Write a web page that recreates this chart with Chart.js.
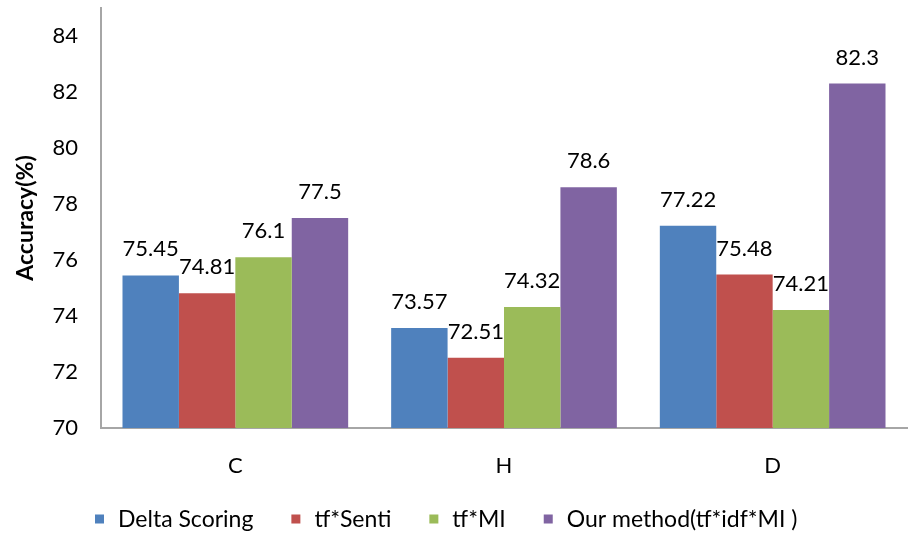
<!DOCTYPE html>
<html>
<head>
<meta charset="utf-8">
<script src="https://cdn.jsdelivr.net/npm/chart.js@4.4.1/dist/chart.umd.min.js"></script>
<style>
  html, body { margin: 0; padding: 0; background: #ffffff; }
  #wrap { width: 909px; height: 533px; position: relative; }
</style>
</head>
<body>
<div id="wrap"><canvas id="chart" width="909" height="533"></canvas></div>
<script>
// Categories and accuracy values (%) for each weighting scheme
const categories = ['C', 'H', 'D'];
const seriesNames = ['Delta Scoring', 'tf*Senti', 'tf*MI', 'Our method(tf*idf*MI )'];
const deltaScoring = [75.45, 73.57, 77.22];
const tfSenti = [74.81, 72.51, 75.48];
const tfMI = [76.1, 74.32, 74.21];
const ourMethod = [77.5, 78.6, 82.3];
const yTicks = [70, 72, 74, 76, 78, 80, 82, 84];
const yMin = 70;
const yMax = 85;

const colors = ['#4F81BD', '#C0504D', '#9BBB59', '#8064A2'];
const seriesValues = [deltaScoring, tfSenti, tfMI, ourMethod];

const FONT = 'Lato, "Liberation Sans", sans-serif';

// Value labels above each bar
const valueLabels = {
  id: 'valueLabels',
  afterDatasetsDraw(chart) {
    const ctx = chart.ctx;
    ctx.save();
    ctx.font = '22px ' + FONT;
    ctx.fillStyle = '#000000';
    ctx.textAlign = 'center';
    ctx.textBaseline = 'alphabetic';
    chart.data.datasets.forEach((ds, i) => {
      const meta = chart.getDatasetMeta(i);
      meta.data.forEach((bar, j) => {
        ctx.fillText(String(ds.data[j]), bar.x, bar.y - 19);
      });
    });
    ctx.restore();
  }
};

// Single-row legend along the bottom edge
const bottomLegend = {
  id: 'bottomLegend',
  afterDraw(chart) {
    const ctx = chart.ctx;
    const box = 9, gapText = 14, gapItem = 38, cy = 519;
    ctx.save();
    ctx.font = '23px ' + FONT;
    ctx.textBaseline = 'middle';
    ctx.textAlign = 'left';
    let x = 95;
    chart.data.datasets.forEach(ds => {
      const w = ctx.measureText(ds.label).width;
      ctx.fillStyle = ds.backgroundColor;
      ctx.fillRect(x, cy - box / 2, box, box);
      ctx.fillStyle = '#000000';
      ctx.fillText(ds.label, x + box + gapText, cy + 1);
      x += box + gapText + w + gapItem;
    });
    ctx.restore();
  }
};

new Chart(document.getElementById('chart'), {
  type: 'bar',
  data: {
    labels: categories,
    datasets: seriesNames.map((name, i) => ({
      label: name,
      data: seriesValues[i],
      backgroundColor: colors[i],
      borderWidth: 0,
      barPercentage: 1.0,
      categoryPercentage: 0.84
    }))
  },
  options: {
    responsive: false,
    animation: false,
    layout: { padding: { top: 8, right: 2, left: 0, bottom: 45 } },
    plugins: {
      legend: { display: false },
      tooltip: { enabled: false }
    },
    scales: {
      x: {
        grid: { display: false, drawTicks: false, tickLength: 0 },
        border: { display: true, color: '#A6A6A6', width: 2 },
        ticks: {
          color: '#000000',
          font: { family: FONT, size: 22 },
          padding: 25
        },
        afterFit(scale) {
          scale.height = 60;
          scale.paddingLeft = 0;
          scale.paddingRight = 0;
        }
      },
      y: {
        min: yMin,
        max: yMax,
        grid: { display: false, drawTicks: false, tickLength: 0 },
        border: { display: true, color: '#A6A6A6', width: 2 },
        ticks: {
          stepSize: 2,
          includeBounds: false,
          color: '#000000',
          font: { family: FONT, size: 22 },
          padding: 23,
          callback: (v) => yTicks.includes(v) ? String(v) : ''
        },
        title: {
          display: true,
          text: 'Accuracy(%)',
          color: '#000000',
          font: { family: FONT, size: 23, weight: 'bold' },
          padding: { top: 12, bottom: 0 }
        },
        afterFit(scale) {
          scale.width = 101;
          scale.paddingTop = 0;
          scale.paddingBottom = 0;
        }
      }
    }
  },
  plugins: [valueLabels, bottomLegend]
});
</script>
</body>
</html>
